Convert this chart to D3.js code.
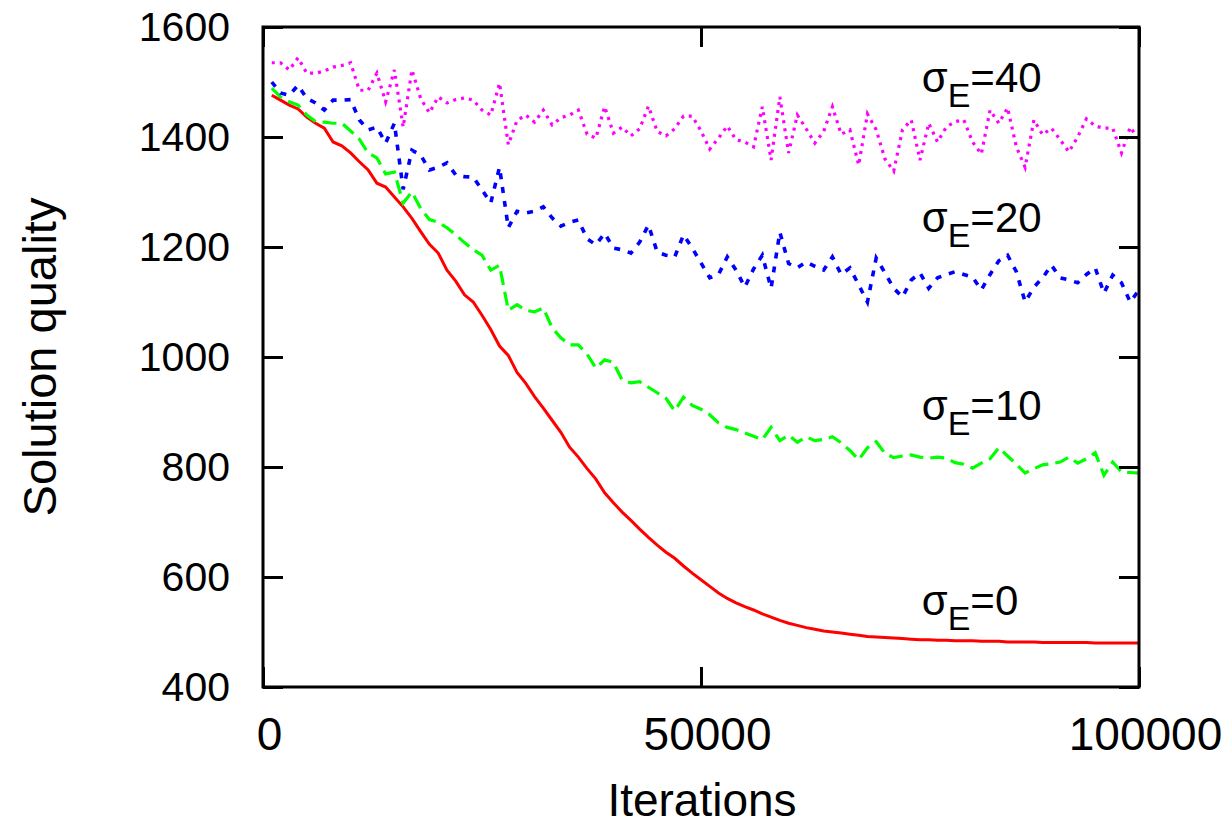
<!DOCTYPE html>
<html>
<head>
<meta charset="utf-8">
<script src="https://cdn.jsdelivr.net/npm/d3@7"></script>
<style>
  body { margin: 0; background: #fff; }
  svg { display: block; font-family: "Liberation Sans", Arial, sans-serif; }
</style>
</head>
<body>
<svg width="1229" height="827"></svg>
<script>
// sample points (iterations)
const iterations = [
  1000, 2000, 3000, 4000, 5000, 6000, 7000, 8000, 9000, 10000,
  11000, 12000, 13000, 14000, 15000, 16000, 17000, 18000, 19000, 20000,
  21000, 22000, 23000, 24000, 25000, 26000, 27000, 28000, 29000, 30000,
  31000, 32000, 33000, 34000, 35000, 36000, 37000, 38000, 39000, 40000,
  41000, 42000, 43000, 44000, 45000, 46000, 47000, 48000, 49000, 50000,
  51000, 52000, 53000, 54000, 55000, 56000, 57000, 58000, 59000, 60000,
  61000, 62000, 63000, 64000, 65000, 66000, 67000, 68000, 69000, 70000,
  71000, 72000, 73000, 74000, 75000, 76000, 77000, 78000, 79000, 80000,
  81000, 82000, 83000, 84000, 85000, 86000, 87000, 88000, 89000, 90000,
  91000, 92000, 93000, 94000, 95000, 96000, 97000, 98000, 99000, 100000
];

// solution quality, one array per sigma_E
const sigma0 = [
  1476, 1467, 1458, 1451, 1436, 1425, 1416, 1391, 1384, 1371,
  1355, 1340, 1316, 1309, 1291, 1273, 1252, 1228, 1205, 1189,
  1158, 1138, 1113, 1100, 1076, 1050, 1020, 1003, 972, 952,
  928, 907, 885, 863, 836, 818, 797, 778, 753, 735,
  718, 703, 687, 672, 658, 645, 634, 620, 607, 595,
  583, 571, 561, 553, 546, 540, 533, 527, 521, 516,
  512, 508, 505, 502, 500, 498, 496, 494, 492, 491,
  490, 489, 488, 487, 486, 486, 485, 485, 484, 484,
  484, 483, 483, 483, 482, 482, 482, 482, 481, 481,
  481, 481, 481, 481, 480, 480, 480, 480, 480, 480
];
const sigma10 = [
  1489, 1473, 1464, 1458, 1440, 1428, 1427, 1425, 1425, 1411,
  1396, 1371, 1362, 1333, 1336, 1280, 1300, 1270, 1250, 1245,
  1235, 1222, 1208, 1195, 1185, 1158, 1167, 1085, 1095, 1085,
  1082, 1089, 1053, 1035, 1022, 1022, 1005, 980, 995, 990,
  958, 953, 955, 945, 935, 925, 902, 927, 912, 905,
  895, 880, 872, 868, 862, 856, 850, 872, 848, 858,
  845, 855, 848, 850, 855, 844, 830, 813, 835, 846,
  825, 817, 820, 822, 818, 816, 818, 816, 808, 805,
  798, 807, 815, 835, 820, 805, 789, 797, 804, 806,
  809, 818, 807, 815, 826, 785, 809, 791, 790, 789
];
const sigma20 = [
  1500, 1480, 1476, 1494, 1470, 1462, 1449, 1467, 1467, 1468,
  1431, 1413, 1418, 1389, 1425, 1305, 1376, 1367, 1340, 1345,
  1353, 1331, 1328, 1327, 1304, 1280, 1345, 1235, 1265, 1262,
  1265, 1273, 1253, 1238, 1245, 1249, 1215, 1204, 1225, 1198,
  1195, 1189, 1209, 1240, 1191, 1185, 1182, 1222, 1198, 1171,
  1144, 1150, 1182, 1158, 1127, 1160, 1185, 1125, 1227, 1170,
  1162, 1173, 1165, 1158, 1182, 1150, 1162, 1131, 1100, 1180,
  1153, 1125, 1109, 1140, 1153, 1125, 1144, 1150, 1155, 1150,
  1145, 1122, 1150, 1175, 1185, 1155, 1100, 1127, 1144, 1167,
  1144, 1140, 1135, 1150, 1162, 1116, 1149, 1135, 1100, 1122
];
const sigma40 = [
  1535, 1535, 1522, 1544, 1516, 1516, 1520, 1527, 1530, 1535,
  1485, 1485, 1516, 1464, 1522, 1418, 1522, 1470, 1444, 1473,
  1462, 1468, 1471, 1467, 1449, 1440, 1498, 1386, 1430, 1440,
  1427, 1449, 1422, 1435, 1440, 1449, 1405, 1398, 1455, 1407,
  1418, 1402, 1415, 1456, 1410, 1402, 1415, 1438, 1438, 1411,
  1378, 1398, 1420, 1395, 1391, 1382, 1455, 1358, 1473, 1371,
  1440, 1415, 1389, 1410, 1455, 1405, 1413, 1349, 1442, 1413,
  1360, 1338, 1413, 1431, 1358, 1425, 1391, 1418, 1428, 1431,
  1391, 1369, 1449, 1425, 1453, 1382, 1345, 1431, 1404, 1416,
  1395, 1373, 1400, 1433, 1420, 1416, 1416, 1371, 1418, 1395
];

const seriesNames = ["0", "10", "20", "40"];
const xTicks = [0, 50000, 100000];
const yTicks = [400, 600, 800, 1000, 1200, 1400, 1600];

const svg = d3.select("svg");
const margin = {top: 27, right: 90, bottom: 140, left: 263};
const width = +svg.attr("width") - margin.left - margin.right;
const height = +svg.attr("height") - margin.top - margin.bottom;

const g = svg.append("g").attr("transform", `translate(${margin.left},${margin.top})`);

const x = d3.scaleLinear().domain([0, 100000]).range([0, width]);
const y = d3.scaleLinear().domain([400, 1600]).range([height, 0]);

// series definitions (drawing order)
const series = [
  {name: seriesNames[0], values: sigma0, color: "#ff0000", dash: null, w: 3},
  {name: seriesNames[1], values: sigma10, color: "#00ff00", dash: "14,7", w: 3.2},
  {name: seriesNames[2], values: sigma20, color: "#0000ff", dash: "6,8", w: 3.6},
  {name: seriesNames[3], values: sigma40, color: "#ff00ff", dash: "3,5", w: 3.2}
];

const line = d3.line()
  .x((d, i) => x(iterations[i]))
  .y(d => y(d));

g.append("g").attr("class", "lines")
  .selectAll("path")
  .data(series)
  .enter().append("path")
  .attr("d", d => line(d.values))
  .attr("fill", "none")
  .attr("stroke", d => d.color)
  .attr("stroke-width", d => d.w)
  .attr("stroke-dasharray", d => d.dash)
  .attr("stroke-linejoin", "miter");

// axes with inward ticks on all four sides
const tickLen = -20;
const axLeft = g.append("g")
  .call(d3.axisLeft(y).tickValues(yTicks).tickFormat(d3.format("d"))
    .tickSizeInner(tickLen).tickSizeOuter(0).tickPadding(33));
const axRight = g.append("g").attr("transform", `translate(${width},0)`)
  .call(d3.axisRight(y).tickValues(yTicks).tickFormat("")
    .tickSizeInner(tickLen).tickSizeOuter(0));
const axBottom = g.append("g").attr("transform", `translate(0,${height})`)
  .call(d3.axisBottom(x).tickValues(xTicks).tickFormat(d3.format("d"))
    .tickSizeInner(tickLen).tickSizeOuter(0).tickPadding(30));
const axTop = g.append("g")
  .call(d3.axisTop(x).tickValues(xTicks).tickFormat("")
    .tickSizeInner(tickLen).tickSizeOuter(0));

[axLeft, axRight, axBottom, axTop].forEach(a => {
  a.select(".domain").remove();
  a.selectAll(".tick line").attr("stroke", "#000").attr("stroke-width", 3);
});

axLeft.selectAll(".tick text")
  .attr("font-size", 41)
  .attr("fill", "#000")
  .attr("font-family", "Liberation Sans, Arial, sans-serif");
axBottom.selectAll(".tick text")
  .attr("font-size", 46)
  .attr("fill", "#000")
  .attr("dx", 6)
  .attr("font-family", "Liberation Sans, Arial, sans-serif");

// frame
g.append("rect")
  .attr("width", width)
  .attr("height", height)
  .attr("fill", "none")
  .attr("stroke", "#000")
  .attr("stroke-width", 3);

// axis titles
svg.append("text")
  .attr("x", 702)
  .attr("y", 816)
  .attr("text-anchor", "middle")
  .attr("font-size", 46)
  .text("Iterations");

svg.append("text")
  .attr("transform", "translate(56,357) rotate(-90)")
  .attr("text-anchor", "middle")
  .attr("font-size", 47)
  .text("Solution quality");

// series labels
const labelX = 75200;
const labelY = {"0": 531, "10": 885, "20": 1227, "40": 1482};
const lab = g.append("g").selectAll("text")
  .data(series)
  .enter().append("text")
  .attr("x", d => x(labelX))
  .attr("y", d => y(labelY[d.name]))
  .attr("font-size", 42)
  .attr("fill", "#000");
lab.append("tspan").text("σ");
lab.append("tspan").attr("font-size", 34).attr("dy", 15).text("E");
lab.append("tspan").attr("dy", -15).text(d => "=" + d.name);
</script>
</body>
</html>
